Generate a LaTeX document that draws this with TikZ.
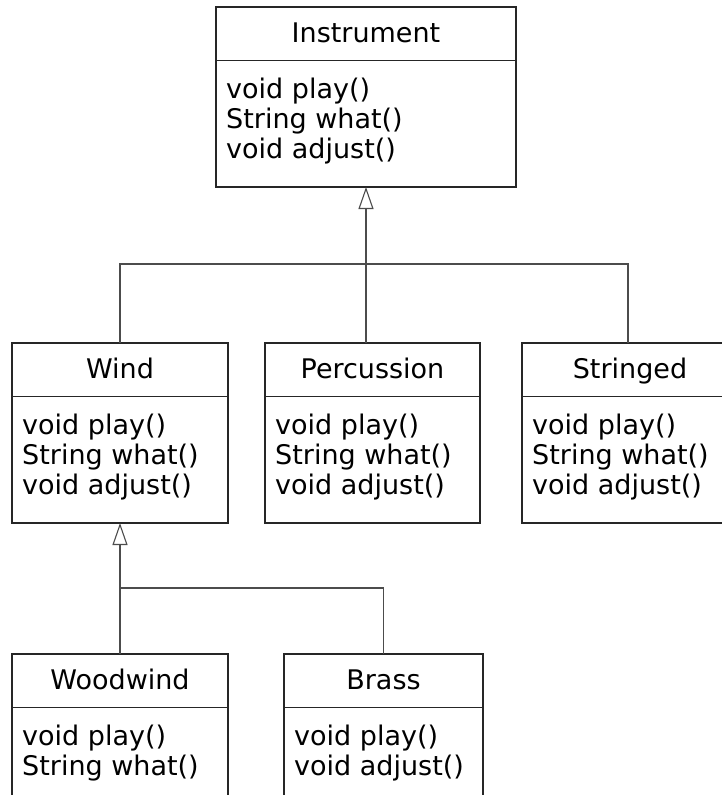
\documentclass[tikz,border=0pt]{standalone}
\usepackage{fontspec}
\setmainfont{DejaVu Sans}
\usetikzlibrary{arrows.meta}
\tikzset{
  classbox/.style={draw=black!85, line width=1.2pt, rectangle, minimum height=180pt, inner sep=0pt, outer sep=0pt, anchor=north west},
  divider/.style={draw=black!85, line width=1.3pt},
  titletext/.style={anchor=base, inner sep=0pt, font=\fontsize{27}{30}\selectfont},
  methodtext/.style={anchor=base west, inner sep=0pt, font=\fontsize{27}{30}\selectfont},
  conn/.style={draw=black!70, line width=1.1pt},
  inherit/.style={conn, -{Triangle[open, length=22pt, width=15pt, line width=1.1pt]}}
}
\newcommand{\umlclass}[6]{%
  \node[classbox, minimum width=#4pt] (#1) at (#2,#3) {};
  \draw[divider] ([yshift=-53.5pt]#1.north west) -- ([yshift=-53.5pt]#1.north east);
  \node[titletext] (#1-title) at ([yshift=-35pt]#1.north) {#5};
  \foreach \m [count=\i] in {#6} {
    \node[methodtext] (#1-m\i) at ([xshift=10pt, yshift={-91.5pt-30pt*(\i-1)}]#1.north west) {\m};
  }
}
\begin{document}
\begin{tikzpicture}[x=1pt, y=-1pt]
  \clip (0,0) rectangle (722,795);
  \fill[white] (0,0) rectangle (722,795);
  \umlclass{instr}{216}{7}{300}{Instrument}{void play(),String what(),void adjust()}
  \umlclass{wind}{12}{343}{216}{Wind}{void play(),String what(),void adjust()}
  \umlclass{perc}{265}{343}{215}{Percussion}{void play(),String what(),void adjust()}
  \umlclass{strg}{522}{343}{216}{Stringed}{void play(),String what(),void adjust()}
  \umlclass{wood}{12}{654}{216}{Woodwind}{void play(),String what()}
  \umlclass{brass}{284}{654}{199}{Brass}{void play(),void adjust()}
  % upper inheritance
  \coordinate (j1) at (366,264);
  \coordinate (s1) at (628,343);
  \draw[inherit] (j1) -- (instr.south);
  \draw[conn] (wind.north) |- (j1) -| (s1);
  \draw[conn] (j1) -- (j1 |- perc.north);
  % lower inheritance
  \coordinate (j2) at (120,588);
  \draw[inherit] (j2) -- (wind.south);
  \draw[conn] (wood.north) -- (j2) -| (brass.north);
\end{tikzpicture}
\end{document}
